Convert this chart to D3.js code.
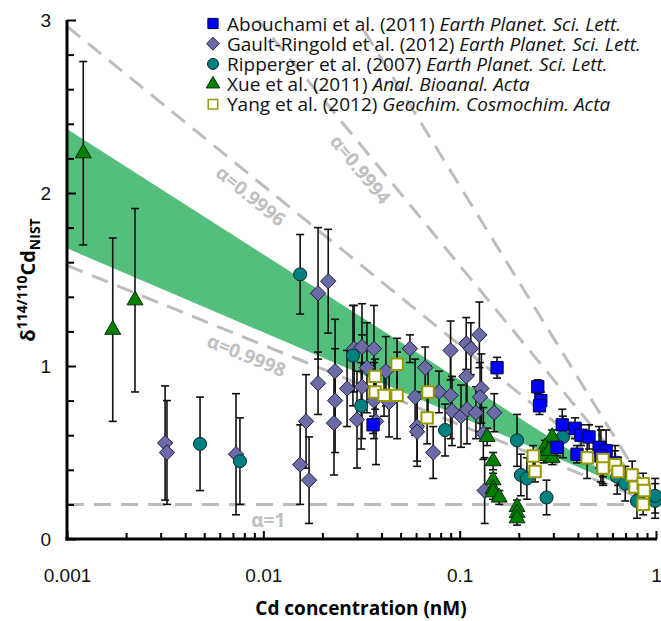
<!DOCTYPE html>
<html lang="en">
<head>
<meta charset="UTF-8">
<title>Cd isotopes vs concentration</title>
<script src="https://d3js.org/d3.v7.min.js"></script>
<style>
  body { margin: 0; background: #fff; }
  svg { font-family: "Open Sans", "Noto Sans", sans-serif; }
  .tick text { font-size: 19px; fill: #111; }
  .axis path.domain { stroke: #000; stroke-width: 3px; }
  .axis .tick line { stroke: #000; stroke-width: 2px; }
  .legend text { font-size: 19px; fill: #111; }
  .alpha-label { font-size: 19px; font-weight: bold; fill: #c0c0c0; }
</style>
</head>
<body>
<div id="chart"></div>
<script>
// ---- data ----
// Abouchami et al. (2011)
const abouConc  = [0.0362, 0.155, 0.250, 0.259, 0.255, 0.333, 0.313, 0.387, 0.415, 0.456, 0.396, 0.513, 0.557, 0.524, 0.535, 0.619];
const abouDelta = [0.66, 0.99, 0.88, 0.80, 0.77, 0.66, 0.53, 0.64, 0.60, 0.59, 0.49, 0.53, 0.51, 0.48, 0.44, 0.44];
const abouErr   = [0.05, 0.06, 0.04, 0.05, 0.05, 0.09, 0.05, 0.06, 0.06, 0.07, 0.05, 0.12, 0.12, 0.15, 0.12, 0.10];

// Gault-Ringold et al. (2012)
const gaultConc  = [0.00316, 0.00323, 0.00726, 0.0154, 0.0165, 0.0171, 0.0190, 0.0190, 0.0214, 0.0232,
                    0.0232, 0.0229, 0.0267, 0.0290, 0.0318, 0.0300, 0.0318, 0.0337, 0.0366, 0.0366,
                    0.0375, 0.0421, 0.0437, 0.0558, 0.0593, 0.0607, 0.0607, 0.0667, 0.0733, 0.0785,
                    0.0899, 0.0899, 0.0914, 0.1016, 0.108, 0.114, 0.108, 0.109, 0.121, 0.126,
                    0.129, 0.127, 0.150, 0.132, 0.134];
const gaultDelta = [0.555, 0.50, 0.49, 0.43, 0.68, 0.34, 0.90, 1.42, 1.49, 0.97,
                    0.80, 0.67, 0.87, 1.10, 1.11, 0.69, 0.88, 0.99, 1.10, 0.80,
                    0.68, 0.97, 0.79, 1.10, 0.82, 0.65, 0.62, 0.99, 0.50, 0.85,
                    1.09, 0.83, 0.74, 0.71, 1.13, 1.10, 0.94, 0.75, 0.73, 1.18,
                    0.87, 0.82, 0.73, 0.61, 0.28];
const gaultErr   = [0.33, 0.30, 0.35, 0.23, 0.27, 0.25, 0.18, 0.38, 0.30, 0.30,
                    0.30, 0.30, 0.22, 0.25, 0.25, 0.28, 0.30, 0.26, 0.25, 0.22,
                    0.25, 0.20, 0.20, 0.08, 0.22, 0.20, 0.20, 0.12, 0.15, 0.12,
                    0.17, 0.25, 0.20, 0.18, 0.15, 0.15, 0.20, 0.20, 0.15, 0.19,
                    0.20, 0.20, 0.11, 0.15, 0.19];

// Ripperger et al. (2007)
const ripConc  = [0.00476, 0.0076, 0.0154, 0.0286, 0.0315, 0.0843, 0.196, 0.205, 0.220, 0.277, 0.336, 0.634, 0.697, 0.800, 0.990, 0.990];
const ripDelta = [0.55, 0.45, 1.53, 1.06, 0.77, 0.63, 0.57, 0.37, 0.35, 0.24, 0.59, 0.36, 0.32, 0.22, 0.22, 0.25];
const ripErr   = [0.27, 0.25, 0.23, 0.29, 0.25, 0.15, 0.15, 0.12, 0.12, 0.10, 0.12, 0.10, 0.10, 0.10, 0.10, 0.10];

// Xue et al. (2011)
const xueConc  = [0.00121, 0.00171, 0.00222, 0.138, 0.148, 0.148, 0.148, 0.148, 0.159, 0.196, 0.196, 0.196, 0.296, 0.272, 0.268, 0.296, 0.285];
const xueDelta = [2.23, 1.21, 1.38, 0.59, 0.45, 0.34, 0.29, 0.27, 0.24, 0.185, 0.15, 0.12, 0.59, 0.53, 0.48, 0.47, 0.51];
const xueErr   = [0.53, 0.53, 0.53, 0.05, 0.05, 0.04, 0.04, 0.04, 0.04, 0.04, 0.04, 0.04, 0.04, 0.04, 0.04, 0.04, 0.04];

// Yang et al. (2012)
const yangConc  = [0.0371, 0.048, 0.0371, 0.0412, 0.048, 0.069, 0.0683, 0.237, 0.242, 0.446, 0.537, 0.537, 0.619, 0.641, 0.756, 0.782, 0.86, 0.87, 0.86];
const yangDelta = [0.94, 1.01, 0.85, 0.83, 0.83, 0.85, 0.70, 0.48, 0.39, 0.47, 0.46, 0.41, 0.43, 0.39, 0.37, 0.30, 0.32, 0.28, 0.20];
const yangErr   = [0.10, 0.15, 0.10, 0.12, 0.25, 0.15, 0.15, 0.06, 0.06, 0.12, 0.10, 0.10, 0.08, 0.08, 0.08, 0.08, 0.06, 0.06, 0.06];

// model band (edges at the two ends)
const bandConc  = [0.001, 0.764];
const bandUpper = [2.37, 0.28];
const bandLower = [1.68, 0.28];

// Rayleigh curves: delta = delta0 + 1000 (alpha - 1) ln(c / c0)
const alphas = [1, 0.9998, 0.9996, 0.9994, 0.9992];
const alphaLabels = ["α=1", "α=0.9998", "α=0.9996", "α=0.9994", null];
const labelConc = [0.0106, 0.0088, 0.0097, 0.036, null];
const delta0 = 0.2, conc0 = 1;

const xTicks = [0.001, 0.01, 0.1, 1];
const yTicks = [0, 1, 2, 3];

// ---- layout ----
const width = 661, height = 621;
const margin = { top: 20, right: 5, bottom: 82, left: 67 };

const svg = d3.select("#chart").append("svg")
    .attr("width", width)
    .attr("height", height);

const x = d3.scaleLog().domain([0.001, 1]).range([margin.left, width - margin.right]);
const y = d3.scaleLinear().domain([0, 3]).range([height - margin.bottom, margin.top]);

svg.append("defs").append("clipPath").attr("id", "plot-clip")
  .append("rect")
    .attr("x", margin.left).attr("y", margin.top)
    .attr("width", width - margin.left - margin.right + 5)
    .attr("height", height - margin.top - margin.bottom);

const plot = svg.append("g").attr("clip-path", "url(#plot-clip)");

// green band
const bandPts = bandConc.map((c, i) => [x(c), y(bandUpper[i])])
  .concat(bandConc.slice().reverse().map((c, i) => [x(c), y(bandLower[bandConc.length - 1 - i])]));
plot.append("path")
    .attr("d", d3.line()(bandPts) + "Z")
    .attr("fill", "#54bf7d");

// dashed Rayleigh lines
const cSamples = d3.range(0, 41).map(i => Math.pow(10, -3 + i * 3 / 40));
const rayleigh = (a, c) => delta0 + 1000 * (a - 1) * Math.log(c / conc0);
alphas.forEach(a => {
  plot.append("path")
      .attr("d", d3.line().x(c => x(c)).y(c => y(rayleigh(a, c)))(cSamples))
      .attr("fill", "none")
      .attr("stroke", "#bdbdbd")
      .attr("stroke-width", 3)
      .attr("stroke-dasharray", "17,10");
});

// alpha labels, rotated along their lines
alphas.forEach((a, i) => {
  if (!alphaLabels[i]) return;
  const c = labelConc[i];
  const px = x(c), py = y(rayleigh(a, c));
  const c2 = c * 1.1;
  const ang = Math.atan2(y(rayleigh(a, c2)) - py, x(c2) - px);
  const off = 16;
  const lx = px - Math.sin(ang) * off, ly = py + Math.cos(ang) * off;
  svg.append("text")
      .attr("class", "alpha-label")
      .attr("transform", `translate(${lx},${ly}) rotate(${ang * 180 / Math.PI})`)
      .attr("text-anchor", "middle")
      .attr("dy", "0.35em")
      .text(alphaLabels[i]);
});

// series
const series = [
  { name: "Gault-Ringold et al. (2012) ", journal: "Earth Planet. Sci. Lett.", conc: gaultConc, delta: gaultDelta, err: gaultErr,
    shape: d3.symbolDiamond2, size: 150, fill: "#6b6ba8", stroke: "#1f1f3a", sw: 1 },
  { name: "Ripperger et al. (2007) ", journal: "Earth Planet. Sci. Lett.", conc: ripConc, delta: ripDelta, err: ripErr,
    shape: d3.symbolCircle, size: 135, fill: "#008080", stroke: "#0a2a2a", sw: 1 },
  { name: "Xue et al. (2011) ", journal: "Anal. Bioanal. Acta", conc: xueConc, delta: xueDelta, err: xueErr,
    shape: d3.symbolTriangle, size: 110, fill: "#008000", stroke: "#0a2a0a", sw: 1 },
  { name: "Abouchami et al. (2011) ", journal: "Earth Planet. Sci. Lett.", conc: abouConc, delta: abouDelta, err: abouErr,
    shape: d3.symbolSquare, size: 150, fill: "#0000ff", stroke: "#000040", sw: 1 },
  { name: "Yang et al. (2012) ", journal: "Geochim. Cosmochim. Acta", conc: yangConc, delta: yangDelta, err: yangErr,
    shape: d3.symbolSquare, size: 130, fill: "#ffffff", stroke: "#999900", sw: 2 }
];

// error bars first so that markers sit on top
series.forEach(s => {
  const g = plot.append("g").attr("stroke", "#111").attr("stroke-width", 1.6);
  s.conc.forEach((c, i) => {
    const cx = x(c), top = y(s.delta[i] + s.err[i]), bot = y(s.delta[i] - s.err[i]);
    g.append("line").attr("x1", cx).attr("x2", cx).attr("y1", top).attr("y2", bot);
    g.append("line").attr("x1", cx - 4).attr("x2", cx + 4).attr("y1", top).attr("y2", top);
    g.append("line").attr("x1", cx - 4).attr("x2", cx + 4).attr("y1", bot).attr("y2", bot);
  });
});

series.forEach(s => {
  plot.append("g").selectAll("path")
    .data(s.conc.map((c, i) => ({ c, d: s.delta[i] })))
    .join("path")
      .attr("transform", d => `translate(${x(d.c)},${y(d.d)})`)
      .attr("d", d3.symbol(s.shape, s.size))
      .attr("fill", s.fill)
      .attr("stroke", s.stroke)
      .attr("stroke-width", s.sw);
});

// axes
const xMinor = [];
[0.001, 0.01, 0.1].forEach(d => { for (let k = 2; k <= 9; k++) xMinor.push(d * k); });
const yMinor = d3.range(0, 3.01, 0.2).filter(v => Math.abs(v - Math.round(v)) > 1e-6);

svg.append("g")
    .attr("class", "axis")
    .attr("transform", `translate(0,${height - margin.bottom})`)
    .call(d3.axisBottom(x).tickValues(xMinor).tickSize(-6).tickFormat(""))
    .call(g => g.select(".domain").remove());

svg.append("g")
    .attr("class", "axis")
    .attr("transform", `translate(0,${height - margin.bottom})`)
    .call(d3.axisBottom(x).tickValues(xTicks).tickSize(-8).tickPadding(30)
      .tickFormat(d => d3.format("~g")(d)))
    .call(g => g.select(".domain").attr("d", `M${margin.left - 1.5},0H${width - margin.right + 1}`));

svg.append("g")
    .attr("class", "axis")
    .attr("transform", `translate(${margin.left},0)`)
    .call(d3.axisLeft(y).tickValues(yMinor).tickSize(-7).tickFormat(""))
    .call(g => g.select(".domain").remove());

svg.append("g")
    .attr("class", "axis")
    .attr("transform", `translate(${margin.left},0)`)
    .call(d3.axisLeft(y).tickValues(yTicks).tickSize(-9).tickPadding(16).tickFormat(d3.format("d")))
    .call(g => g.select(".domain").attr("d", `M0,${margin.top}V${height - margin.bottom + 1.5}`));

// axis titles
svg.append("text")
    .attr("x", 361).attr("y", 615)
    .attr("text-anchor", "middle")
    .attr("font-size", 19).attr("font-weight", "bold")
    .text("Cd concentration (nM)");

const yt = svg.append("text")
    .attr("transform", "translate(35,280) rotate(-90)")
    .attr("text-anchor", "middle")
    .attr("font-weight", "bold")
    .attr("font-size", 20);
yt.append("tspan").text("δ");
yt.append("tspan").attr("font-size", 14).attr("dy", -8).text("114/110");
yt.append("tspan").attr("dy", 8).text("Cd");
yt.append("tspan").attr("font-size", 14).attr("dy", 5).text("NIST");

// legend
const legendOrder = [3, 0, 1, 2, 4];
const legend = svg.append("g").attr("class", "legend");
legendOrder.forEach((si, row) => {
  const s = series[si];
  const ly = 23.5 + row * 20.2;
  legend.append("path")
      .attr("transform", `translate(213,${ly})`)
      .attr("d", d3.symbol(s.shape, s.size * 0.7))
      .attr("fill", s.fill)
      .attr("stroke", s.stroke)
      .attr("stroke-width", s.sw === 2 ? 1.5 : 1);
  const t = legend.append("text").attr("x", 227).attr("y", ly + 7);
  t.append("tspan").text(s.name);
  t.append("tspan").attr("font-style", "italic").text(s.journal);
});
</script>
</body>
</html>
